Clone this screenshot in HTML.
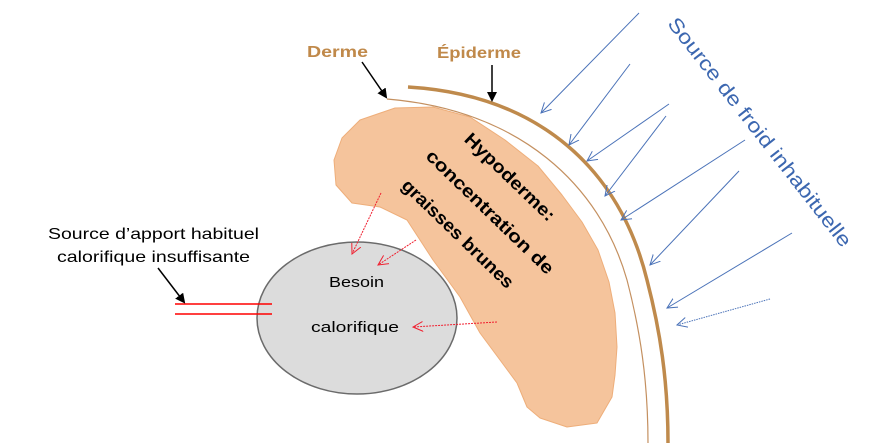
<!DOCTYPE html>
<html><head><meta charset="utf-8"><style>
html,body{margin:0;padding:0;background:#fff;width:879px;height:443px;overflow:hidden}
svg{display:block}
text{font-family:"Liberation Sans",sans-serif}
</style></head><body>
<svg width="879" height="443" viewBox="0 0 879 443" xmlns="http://www.w3.org/2000/svg">
<defs>
<marker id="bk" markerWidth="10" markerHeight="10" refX="8" refY="5" orient="auto" markerUnits="userSpaceOnUse"><path d="M0,0 L10,5 L0,10 z" fill="#000"/></marker>
<marker id="bl" markerWidth="12" markerHeight="12" refX="10" refY="6" orient="auto" markerUnits="userSpaceOnUse"><path d="M0,1 L10,6 L0,11" fill="none" stroke="#4a72b8" stroke-width="1"/></marker>
<marker id="rd" markerWidth="12" markerHeight="12" refX="10" refY="6" orient="auto" markerUnits="userSpaceOnUse"><path d="M0,1 L10,6 L0,11" fill="none" stroke="#f02030" stroke-width="1"/></marker>
</defs>
<polygon points="380,207 352,203 336,185 334,160 342,138 360,120 395,108 433,107 470,117 505,140 538,166 562,195 582,222 598,250 609,282 615,313 617,347 615,375 612,397 597,423 567,427 540,418 527,407 517,383 500,360 480,333 460,297 433,260 407,220" fill="#f5c49c" stroke="#eeae7a" stroke-width="1" stroke-linejoin="round"/>
<ellipse cx="357" cy="318" rx="100" ry="76" fill="#dcdcdc" stroke="#6b6b6b" stroke-width="1.5"/>
<path d="M408,87 C540,95 620,170 647,280 C660,330 668,380 668,443" fill="none" stroke="#bf8a4c" stroke-width="3.5"/>
<path d="M387,99 C520,110 600,185 627,280 C640,330 648,380 648,443" fill="none" stroke="#c49060" stroke-width="1.2"/>
<g stroke="#4a72b8" stroke-width="1" marker-end="url(#bl)">
<line x1="639" y1="13" x2="541" y2="113"/>
<line x1="630" y1="64" x2="569" y2="145"/>
<line x1="669" y1="104" x2="587" y2="161"/>
<line x1="666" y1="116" x2="605" y2="196"/>
<line x1="745" y1="140" x2="621" y2="220"/>
<line x1="739" y1="171" x2="650" y2="265"/>
<line x1="792" y1="233" x2="667" y2="308"/>
<line x1="770" y1="299" x2="677" y2="325" stroke-dasharray="1.5,1"/>
</g>
<g stroke="#f02030" stroke-width="1" stroke-dasharray="2,1" marker-end="url(#rd)">
<line x1="381" y1="193" x2="352" y2="254"/>
<line x1="416" y1="240" x2="378" y2="265"/>
<line x1="497" y1="322" x2="413" y2="327"/>
</g>
<line x1="175" y1="304" x2="272" y2="304" stroke="#f00" stroke-width="1.5"/>
<line x1="175" y1="314" x2="272" y2="314" stroke="#f00" stroke-width="1.5"/>
<g stroke="#000" stroke-width="1.5" marker-end="url(#bk)">
<line x1="158" y1="268" x2="184" y2="302"/>
<line x1="362" y1="62" x2="386" y2="97"/>
<line x1="492" y1="65" x2="492" y2="100"/>
</g>
<text x="307" y="57" font-size="16" font-weight="bold" fill="#c0894a" textLength="61" lengthAdjust="spacingAndGlyphs">Derme</text>
<text x="437" y="58" font-size="16" font-weight="bold" fill="#c0894a" textLength="84" lengthAdjust="spacingAndGlyphs">Épiderme</text>
<text x="48" y="239" font-size="16" fill="#000" textLength="211" lengthAdjust="spacingAndGlyphs">Source d’apport habituel</text>
<text x="57" y="262" font-size="16" fill="#000" textLength="193" lengthAdjust="spacingAndGlyphs">calorifique insuffisante</text>
<text x="329" y="287" font-size="15" fill="#000" textLength="55" lengthAdjust="spacingAndGlyphs">Besoin</text>
<text x="311" y="332" font-size="15" fill="#000" textLength="88" lengthAdjust="spacingAndGlyphs">calorifique</text>
<text transform="translate(760,132) rotate(52)" x="0" y="7" text-anchor="middle" font-size="20" fill="#3c67b0" textLength="285" lengthAdjust="spacingAndGlyphs">Source de froid inhabituelle</text>
<g transform="translate(490,212) rotate(44)" font-size="18" font-weight="bold" fill="#000" text-anchor="middle">
<text x="-10" y="-33" textLength="118" lengthAdjust="spacingAndGlyphs">Hypoderme:</text>
<text x="0" y="6" textLength="170" lengthAdjust="spacingAndGlyphs">concentration de</text>
<text x="-8" y="44" textLength="148" lengthAdjust="spacingAndGlyphs">graisses brunes</text>
</g>
</svg>
</body></html>
